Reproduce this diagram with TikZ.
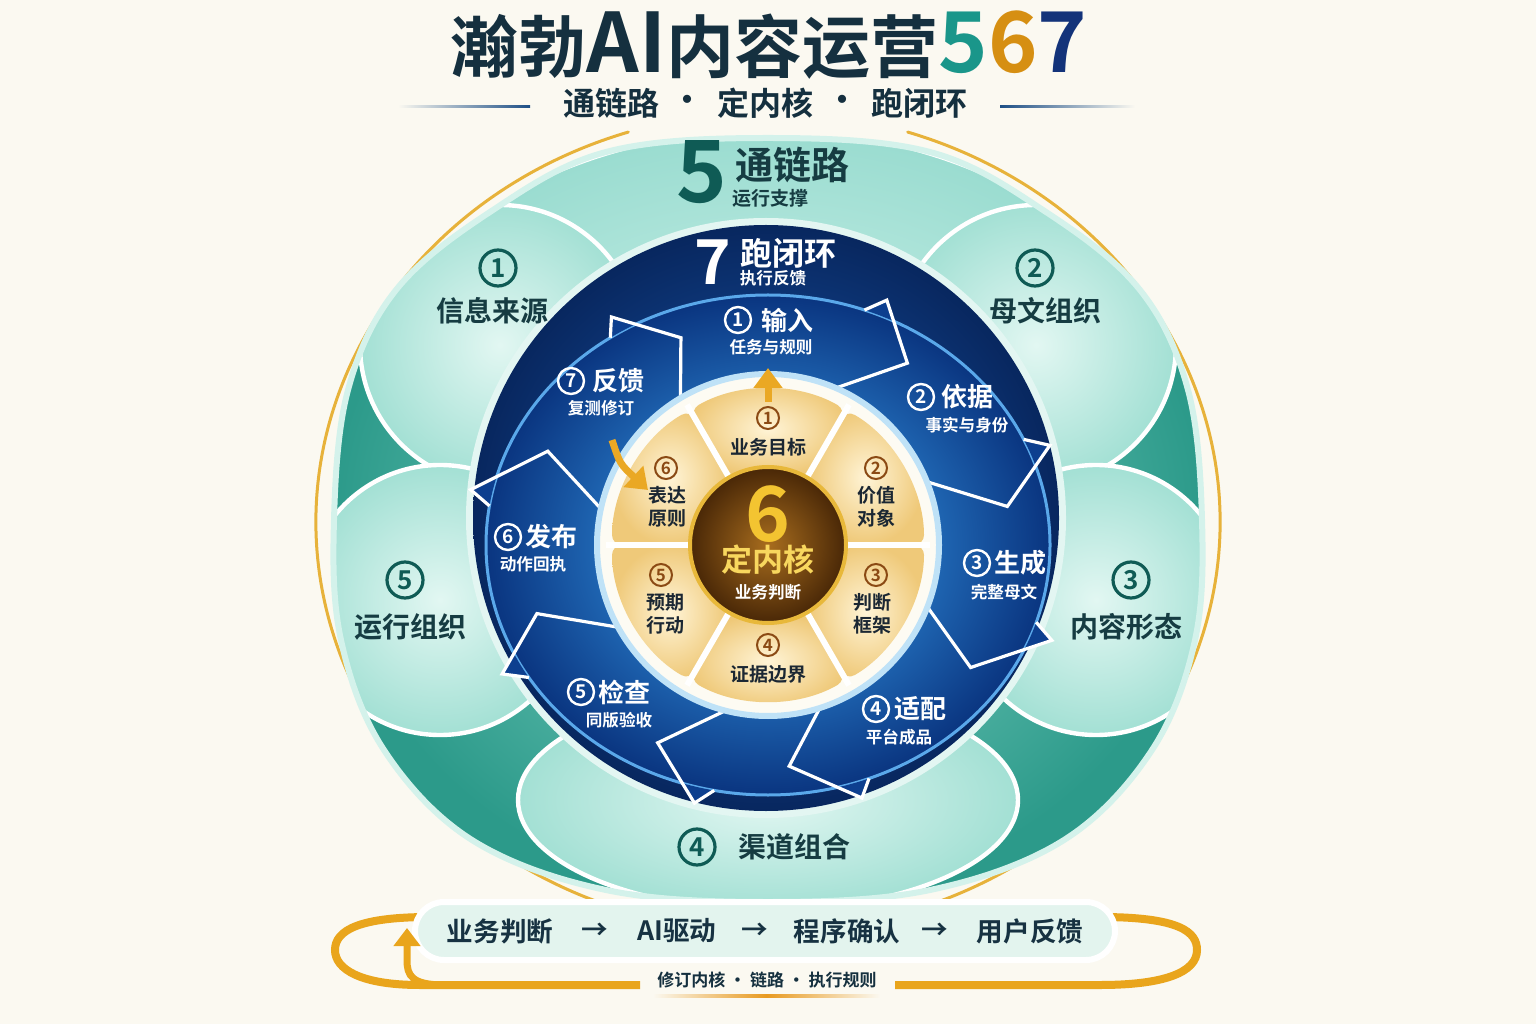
\documentclass[tikz,border=0pt]{standalone}
\usepackage{fontspec}
\setmainfont{Noto Sans CJK SC}[BoldFont={* Bold}]
\usetikzlibrary{arrows.meta}
\definecolor{bgc}{HTML}{FBF9F1}
\definecolor{tdark}{HTML}{15303F}
\definecolor{tteal}{HTML}{1A968A}
\definecolor{tgold}{HTML}{D68F12}
\definecolor{tnavy}{HTML}{13337A}
\definecolor{subline}{HTML}{1D4F86}
\definecolor{tealdark}{HTML}{2C9A8A}
\definecolor{teallight}{HTML}{86D6C8}
\definecolor{rimc}{HTML}{D4F2EB}
\definecolor{petalin}{HTML}{E2F7F2}
\definecolor{petalout}{HTML}{A3E0D4}
\definecolor{bandin}{HTML}{D8F6EF}
\definecolor{bandout}{HTML}{9ADCD0}
\definecolor{blueIn}{HTML}{1A5CB5}
\definecolor{blueOut}{HTML}{08275F}
\definecolor{ringIn}{HTML}{3FB0FF}
\definecolor{ringOut}{HTML}{0A3580}
\definecolor{barbc}{HTML}{0D3F8F}
\definecolor{lightline}{HTML}{5AA8EA}
\definecolor{discrim}{HTML}{E3F6F2}
\definecolor{gapfill}{HTML}{FDFBF3}
\definecolor{gaprim}{HTML}{BFE2F7}
\definecolor{secin}{HTML}{FFF4D6}
\definecolor{secout}{HTML}{EFC979}
\definecolor{corein}{HTML}{A86D1E}
\definecolor{coreout}{HTML}{4A2807}
\definecolor{corering}{HTML}{E8B83A}
\definecolor{coregold}{HTML}{F3C431}
\definecolor{corelight}{HTML}{F8D75E}
\definecolor{arrowgold}{HTML}{EAA824}
\definecolor{goldarc}{HTML}{E7B23A}
\definecolor{goldline}{HTML}{E9A51C}
\definecolor{barfill}{HTML}{E3F4EE}
\definecolor{bartxt}{HTML}{173242}
\definecolor{orline}{HTML}{E89A20}
\definecolor{petaltxt}{HTML}{163C42}
\definecolor{petalnum}{HTML}{0F5B55}
\definecolor{secbrown}{HTML}{8B4A14}
\definecolor{sectxt}{HTML}{1B2733}
\newcommand\myfs[1]{\fontsize{#1pt}{#1pt}\selectfont}

\begin{document}
\begin{tikzpicture}[x=0.5pt,y=0.5pt,
  txt/.style={inner sep=0pt, font=\bfseries},
  pnum/.style={circle, draw=petalnum, text=petalnum, line width=1.6pt, minimum size=18pt, inner sep=0pt, font=\bfseries\myfs{13}},
  anum/.style={circle, draw=white, text=white, line width=1.2pt, minimum size=13pt, inner sep=0pt, font=\bfseries\myfs{9.5}},
  snum/.style={circle, draw=secbrown, text=secbrown, line width=1pt, minimum size=11pt, inner sep=0pt, font=\bfseries\myfs{8.5}},
  ptxt/.style={txt, text=petaltxt, font=\bfseries\myfs{14}},
  atxt/.style={txt, text=white, font=\bfseries\myfs{13}},
  asub/.style={txt, text=white, font=\bfseries\myfs{8.3}},
  stxt/.style={txt, text=sectxt, align=center, font=\bfseries\fontsize{9.5pt}{11.5pt}\selectfont},
  btxt/.style={txt, text=bartxt, font=\bfseries\myfs{13.3}},
  petal/.style={draw=white, line width=2.2pt, inner color=petalin, outer color=petalout},
  headline/.style={white, line width=1.6pt, line join=miter},
  goldarrow/.style={arrowgold, line width=3.5pt, -{Triangle[length=10pt, width=14pt]}}
]
\useasboundingbox (0,0) rectangle (1536,1024);
\fill[bgc] (0,0) rectangle (1536,1024);

% ---------- title ----------
\node[txt, font=\bfseries\myfs{34}] (title) at (769,979)
  {\textcolor{tdark}{瀚勃{\myfs{41}AI}内容运营}{\myfs{42}\textcolor{tteal}{5}\textcolor{tgold}{6}\textcolor{tnavy}{7}}};
\node[txt, text=tdark, font=\bfseries\myfs{16}] (subA) at (611,921) {通链路};
\node[txt, text=tdark, font=\bfseries\myfs{16}] (dotA) at (687,921) {·};
\node[txt, text=tdark, font=\bfseries\myfs{16}] (subB) at (765,921) {定内核};
\node[txt, text=tdark, font=\bfseries\myfs{16}] (dotB) at (842,921) {·};
\node[txt, text=tdark, font=\bfseries\myfs{16}] (subC) at (919,921) {跑闭环};
\shade[left color=bgc, right color=subline] (398,916) rectangle (530,918.5);
\shade[left color=subline, right color=bgc] (1000,916) rectangle (1135,918.5);

% ---------- gold arcs ----------
\draw[goldarc, line width=1.5pt, line cap=round] ({768+452*cos(108)},{502+410*sin(108)}) arc[start angle=108, end angle=250, x radius=452, y radius=410];
\draw[goldarc, line width=1.5pt, line cap=round] ({768+452*cos(-70)},{502+410*sin(-70)}) arc[start angle=-70, end angle=72, x radius=452, y radius=410];

% ---------- teal flower ----------
\shade[inner color=teallight, outer color=tealdark] plot[smooth cycle, tension=0.6] coordinates {(768,886) (930,872) (1046,812) (1140,734) (1188,634) (1202,504) (1195,384) (1152,274) (1064,184) (930,134) (768,122) (606,134) (472,184) (384,274) (341,384) (334,504) (348,634) (396,734) (490,812) (606,872)};
\begin{scope}
\clip plot[smooth cycle, tension=0.6] coordinates {(768,886) (930,872) (1046,812) (1140,734) (1188,634) (1202,504) (1195,384) (1152,274) (1064,184) (930,134) (768,122) (606,134) (472,184) (384,274) (341,384) (334,504) (348,634) (396,734) (490,812) (606,872)};
\begin{scope}
\clip (0,690) rectangle (1536,1024);
\shadedraw[draw=white, line width=2pt, inner color=bandin, outer color=bandout] (768,554) ellipse[x radius=440, y radius=340];
\end{scope}
\shadedraw[petal] (768,224) ellipse[x radius=250, y radius=110];
\shadedraw[petal] (500,679) circle[radius=140];
\shadedraw[petal] (1036,679) circle[radius=140];
\shadedraw[petal] (440,424) circle[radius=135];
\shadedraw[petal] (1096,424) circle[radius=135];
\end{scope}
\draw[rimc, line width=3pt] plot[smooth cycle, tension=0.6] coordinates {(768,886) (930,872) (1046,812) (1140,734) (1188,634) (1202,504) (1195,384) (1152,274) (1064,184) (930,134) (768,122) (606,134) (472,184) (384,274) (341,384) (334,504) (348,634) (396,734) (490,812) (606,872)};

% ---------- blue disc ----------
\draw[discrim, line width=5pt] (766,506) circle[radius=295];
\shade[inner color=blueIn, outer color=blueOut] (766,506) circle[radius=293];
\shade[even odd rule, inner color=ringIn, outer color=ringOut] (768,479) ellipse[x radius=282, y radius=250] (768,479) circle[radius=170];
\draw[lightline, line width=1.5pt] (768,479) ellipse[x radius=282, y radius=250];

% arrow head barbs (outside the ring)
\begin{scope}[even odd rule]
\clip (0,0) rectangle (1536,1024) (768,479) ellipse[x radius=282, y radius=250];
\foreach \a/\b in {67/55, 22/10, -21/-33.5, -72/-85, -104/-117, -151/-162, -192/-205, -239/-249}{
  \fill[barbc]
    ({768+282*cos(\a+3)},{479+250*sin(\a+3)}) --
    ({768+304*cos(\a)},{479+266*sin(\a)}) --
    ({768+243*cos(\b)},{479+222*sin(\b)}) --
    ({768+170*cos(\a)},{479+170*sin(\a)}) -- cycle;
}
\end{scope}
% arrow head outlines
\foreach \a/\b in {67/55, 22/10, -21/-33.5, -72/-85, -104/-117, -151/-162, -192/-205, -239/-249}{
  \draw[headline]
    ({768+282*cos(\a+3)},{479+250*sin(\a+3)}) --
    ({768+304*cos(\a)},{479+266*sin(\a)}) --
    ({768+243*cos(\b)},{479+222*sin(\b)}) --
    ({768+170*cos(\a)},{479+170*sin(\a)});
}

% gap
\fill[gapfill] (768,479) circle[radius=170];
\draw[gaprim, line width=3pt] (768,479) circle[radius=171];

% ---------- core sectors ----------
\begin{scope}[shift={(768,479)}]
\foreach \c in {90,30,-30,-90,-150,150}{
  \shade[inner color=secin, outer color=secout, rounded corners=5pt]
    ({\c-30}:80) -- ({\c-30}:156) arc[start angle={\c-30}, end angle={\c+30}, radius=156] -- ({\c+30}:80) -- cycle;
}
\foreach \s in {0,60,120,180,240,300}{
  \draw[white, line width=3pt] (\s:76) -- (\s:162);
}
\shade[inner color=corein, outer color=coreout] (0,0) circle[radius=77];
\draw[corering, line width=2pt] (0,0) circle[radius=78];
\end{scope}

% small gold arrows
\coordinate (upS) at (768,622);
\coordinate (upE) at (768,656);
\draw[goldarrow] (upS) -- (upE);
\coordinate (cvS) at (612,584);
\coordinate (cvE) at (648,534);
\draw[goldarrow] (cvS) .. controls (620,560) .. (cvE);

% ---------- core text ----------
\node[txt, text=coregold, font=\bfseries\myfs{38}] (six) at (768,510) {6};
\node[txt, text=corelight, font=\bfseries\myfs{15.5}] (core) at (768,464) {定内核};
\node[txt, text=white, font=\bfseries\myfs{8.3}] (coresub) at (768,432) {业务判断};

\node[snum] (s1) at (768,606) {1};
\node[stxt] (s1t) at (768,577) {业务目标};
\node[snum] (s2) at (876,556) {2};
\node[stxt] (s2t) at (876,517) {价值\\对象};
\node[snum] (s3) at (876,449) {3};
\node[stxt] (s3t) at (872,410) {判断\\框架};
\node[snum] (s4) at (768,379) {4};
\node[stxt] (s4t) at (768,350) {证据边界};
\node[snum] (s5) at (661,449) {5};
\node[stxt] (s5t) at (665,410) {预期\\行动};
\node[snum] (s6) at (666,556) {6};
\node[stxt] (s6t) at (667,517) {表达\\原则};

% ---------- blue band text ----------
\node[txt, text=white, font=\bfseries\myfs{31}] (seven) at (713,762) {7};
\node[txt, text=white, font=\bfseries\myfs{16}] (run) at (788,771) {跑闭环};
\node[txt, text=white, font=\bfseries\myfs{8.3}] (runsub) at (773,746) {执行反馈};

\node[anum] (a1) at (738,704) {1};
\node[atxt] (a1t) at (787,704) {输入};
\node[asub] (a1s) at (771,677) {任务与规则};
\node[anum] (a2) at (921,627) {2};
\node[atxt] (a2t) at (967,627) {依据};
\node[asub] (a2s) at (967,599) {事实与身份};
\node[anum] (a3) at (977,461) {3};
\node[atxt] (a3t) at (1020,461) {生成};
\node[asub] (a3s) at (1004,432) {完整母文};
\node[anum] (a4) at (876,315) {4};
\node[atxt] (a4t) at (920,315) {适配};
\node[asub] (a4s) at (899,287) {平台成品};
\node[anum] (a5) at (581,332) {5};
\node[atxt] (a5t) at (624,332) {检查};
\node[asub] (a5s) at (619,304) {同版验收};
\node[anum] (a6) at (508,487) {6};
\node[atxt] (a6t) at (551,487) {发布};
\node[asub] (a6s) at (533,460) {动作回执};
\node[anum] (a7) at (571,643) {7};
\node[atxt] (a7t) at (618,643) {反馈};
\node[asub] (a7s) at (601,616) {复测修订};

% ---------- teal text ----------
\node[txt, text=petalnum, font=\bfseries\myfs{43}] (five) at (702,852) {5};
\node[txt, text=petaltxt, font=\bfseries\myfs{19}] (link) at (792,859) {通链路};
\node[txt, text=petaltxt, font=\bfseries\myfs{9.5}] (linksub) at (770,826) {运行支撑};

\node[pnum] (p1) at (498,756) {1};
\node[ptxt] (p1t) at (492,713) {信息来源};
\node[pnum] (p2) at (1035,756) {2};
\node[ptxt] (p2t) at (1045,713) {母文组织};
\node[pnum] (p3) at (1131,444) {3};
\node[ptxt] (p3t) at (1126,397) {内容形态};
\node[pnum] (p5) at (405,444) {5};
\node[ptxt] (p5t) at (410,397) {运行组织};
\node[pnum] (p4) at (697,177) {4};
\node[ptxt] (p4t) at (794,177) {渠道组合};

% ---------- bottom loop ----------
\coordinate (lpR0) at (1100,107);
\coordinate (lpR1) at (1197,74);
\coordinate (lpR2) at (1100,39);
\coordinate (lpR3) at (895,39);
\coordinate (lpL0) at (640,39);
\coordinate (lpL1) at (420,39);
\coordinate (lpL2) at (335,74);
\coordinate (lpL3) at (430,107);
\draw[goldline, line width=4pt] (lpR0) .. controls (1180,107) and (1197,92) .. (lpR1) .. controls (1197,52) and (1165,39) .. (lpR2) -- (lpR3);
\draw[goldline, line width=4pt] (lpL0) -- (lpL1) .. controls (360,39) and (335,55) .. (lpL2) .. controls (335,94) and (360,107) .. (lpL3);

\node[draw=white, line width=3pt, fill=barfill, rounded corners=14.5pt, minimum width=350pt, minimum height=29pt] (bar) at (765,93) {};
\node[btxt] (b1) at (500,93) {业务判断};
\node[btxt] (ar1) at (595,93) {→};
\node[btxt] (b2) at (677,93) {AI驱动};
\node[btxt] (ar2) at (755,93) {→};
\node[btxt] (b3) at (847,93) {程序确认};
\node[btxt] (ar3) at (935,93) {→};
\node[btxt] (b4) at (1030,93) {用户反馈};

\coordinate (upArS) at (445,39);
\coordinate (upArE) at (407,96);
\draw[goldline, line width=3.5pt, -{Triangle[length=9pt, width=13pt]}] (upArS) .. controls (412,39) and (407,48) .. (407,64) -- (upArE);

\node[txt, text=tdark, font=\bfseries\myfs{8.5}] (loopt) at (767,44) {修订内核 · 链路 · 执行规则};
\shade[left color=bgc, right color=bgc, middle color=orline] (653,27) rectangle (880,29.5);
\end{tikzpicture}
\end{document}
